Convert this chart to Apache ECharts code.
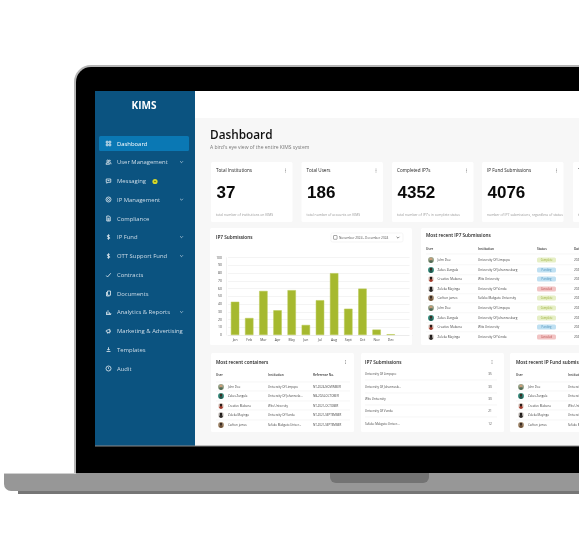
<!DOCTYPE html>
<html>
<head>
<meta charset="utf-8">
<title>KIMS Dashboard</title>
<script src="https://cdn.jsdelivr.net/npm/echarts@6/dist/echarts.min.js"></script>
<style>
    html, body { margin: 0; padding: 0; background: #fff; }
    #main { width: 579px; height: 549px; }
</style>
</head>
<body>
<div id="main"></div>
<script>
const months = ['Jan', 'Feb', 'Mar', 'Apr', 'May', 'Jun', 'Jul', 'Aug', 'Sept', 'Oct', 'Nov', 'Dec'];
const submissions = [43, 22, 57, 32, 58, 13, 45, 80, 34, 60, 7, 1];
const yTicks = [0, 10, 20, 30, 40, 50, 60, 70, 80, 90, 100];

const menuItems = ['Dashboard', 'User Management', 'Messaging', 'IP Management', 'Compliance', 'IP Fund', 'OTT Support Fund',
    'Contracts', 'Documents', 'Analytics & Reports', 'Marketing & Advertising', 'Templates', 'Audit'];
const menuWithChevron = ['User Management', 'IP Management', 'IP Fund', 'OTT Support Fund', 'Analytics & Reports'];

const statTitles = ['Total Institutions', 'Total Users', 'Completed IP7s', 'IP Fund Submissions', 'Total'];
const statValues = ['37', '186', '4352', '4076', '2'];
const statNotes = ['total number of institutions on KIMS', 'total number of accounts on KIMS',
    "total number of IP7's in complete status", 'number of IP7 submissions, regardless of status', 'total'];

const recentUsers = ['John Doe', 'Zakes Zungula', 'Creative Mabena', 'Zoleka Mayinga', 'Carlton james',
    'John Doe', 'Zakes Zungula', 'Creative Mabena', 'Zoleka Mayinga'];
const recentInstitutions = ['University Of Limpopo', 'University Of Johannesburg', 'Wits University', 'University Of Venda',
    'Sefako Makgato University', 'University Of Limpopo', 'University Of Johannesburg', 'Wits University', 'University Of Venda'];
const recentStatus = ['Complete', 'Pending', 'Pending', 'Canceled', 'Complete', 'Complete', 'Complete', 'Pending', 'Canceled'];

const containerInstitutions = ['University Of Limpopo', 'University Of Johannesb...', 'Wits University', 'University Of Venda', 'Sefako Makgato Univer...'];
const containerRefs = ['NT-2024-NOVEMBER', 'NB-2024-OCTOBER', 'NT-2021-OCTOBER', 'NT-2021-SEPTEMBER', 'NT-2021-SEPTEMBER'];
const rankInstitutions = ['University Of Limpopo', 'University Of Johannesb...', 'Wits University', 'University Of Venda', 'Sefako Makgato Univer...'];
const rankValues = [35, 30, 30, 21, 12];

const statusColors = {
    Complete: ['#e6efc6', '#9aae3a'],
    Pending: ['#bfe0f2', '#4a8fb8'],
    Canceled: ['#f2c4c4', '#b84a4a']
};
const avatarColors = [['#9aa58c', '#c69c78', '#4f6b58'], ['#3f9485', '#3a2c24', '#23584f'], ['#e9d9d2', '#2a1c18', '#a33a2c'],
    ['#d8d4d0', '#1f1a18', '#2e2a28'], ['#b09a80', '#3a2c24', '#6e5238']];

// 菜单图标线稿，24 x 24 的框：折线 + 圆环
const dollarIcon = { lines: [[[17, 6], [12, 4], [7, 7], [8, 11], [16, 13], [17, 17], [12, 20], [7, 18]], [[12, 2], [12, 22]]] };
const menuIcons = [
    { lines: [[[3, 3], [10, 3], [10, 10], [3, 10], [3, 3]], [[14, 3], [21, 3], [21, 10], [14, 10], [14, 3]],
        [[3, 14], [10, 14], [10, 21], [3, 21], [3, 14]], [[14, 14], [21, 14], [21, 21], [14, 21], [14, 14]]] },
    { lines: [[[2, 21], [4, 15], [14, 15], [16, 21], [2, 21]], [[17, 14], [21, 15], [22, 21]]], rings: [[9, 8, 4], [17, 7, 2.5]] },
    { lines: [[[3, 4], [21, 4], [21, 17], [10, 17], [5, 21], [5, 17], [3, 17], [3, 4]], [[8, 10], [16, 10]]] },
    { rings: [[12, 12, 10], [12, 12, 4]] },
    { lines: [[[5, 2], [15, 2], [19, 6], [19, 22], [5, 22], [5, 2]], [[8, 11], [16, 11]], [[8, 15], [16, 15]], [[8, 19], [16, 19]]] },
    dollarIcon,
    dollarIcon,
    { lines: [[[3, 14], [8, 20], [21, 5]]] },
    { lines: [[[8, 2], [20, 2], [20, 19], [8, 19], [8, 2]], [[4, 6], [4, 22], [16, 22]]] },
    { lines: [[[4, 21], [4, 11]], [[10, 21], [10, 5]], [[16, 21], [16, 13]], [[21, 21], [21, 16]], [[2, 22], [22, 22]]] },
    { lines: [[[3, 10], [3, 15], [17, 20], [17, 5], [3, 10]], [[8, 17], [8, 21], [11, 21]], [[20, 10], [20, 15]]] },
    { lines: [[[12, 3], [12, 14]], [[7, 10], [12, 15], [17, 10]], [[4, 20], [20, 20]]] },
    { rings: [[12, 12, 10]], lines: [[[12, 7], [12, 12], [15, 15]]] }
];

let els = [];

function rect(x, y, w, h, fill, r, extra) {
    els.push(Object.assign({
        type: 'rect', z: -1,
        shape: { x: x, y: y, width: w, height: h, r: r || 0 },
        style: { fill: fill }
    }, extra || {}));
}

function text(x, y, str, size, color, weight, align, family) {
    els.push({
        type: 'text', z: 10, x: x, y: y + 0.5,
        style: {
            text: str,
            fontFamily: family || '"Open Sans"',
            fontSize: size,
            fontWeight: weight || 400,
            fill: color || '#222',
            align: align || 'left',
            verticalAlign: 'middle'
        }
    });
}

function circle(cx, cy, r, fill, z) {
    els.push({ type: 'circle', z: z || 5, shape: { cx: cx, cy: cy, r: r }, style: { fill: fill } });
}

function hline(x1, x2, y, color) {
    els.push({ type: 'line', z: 1, shape: { x1: x1, y1: y, x2: x2, y2: y }, style: { stroke: color || '#f0f0f0', lineWidth: 0.6 } });
}

function dots(x, y) {
    circle(x, y - 1.5, 0.45, '#555');
    circle(x, y, 0.45, '#555');
    circle(x, y + 1.5, 0.45, '#555');
}

function avatar(x, y, i) {
    let c = avatarColors[i % avatarColors.length];
    circle(x, y, 3, c[0]);
    circle(x, y + 1.3, 1.7, c[2], 6);
    circle(x, y - 0.9, 1.4, c[1], 7);
}

function chevron(x, y, color) {
    els.push({
        type: 'polyline', z: 5,
        shape: { points: [[x - 1.4, y - 0.7], [x, y + 0.7], [x + 1.4, y - 0.7]] },
        style: { stroke: color, fill: null, lineWidth: 0.7 }
    });
}

function icon(spec, cx, cy, color) {
    let k = 6 / 24;
    (spec.lines || []).forEach(function(pts) {
        els.push({
            type: 'polyline', z: 5,
            shape: { points: pts.map(function(p) { return [cx - 3 + p[0] * k, cy - 3 + p[1] * k]; }) },
            style: { stroke: color, fill: null, lineWidth: 0.8 }
        });
    });
    (spec.rings || []).forEach(function(c) {
        els.push({
            type: 'circle', z: 5,
            shape: { cx: cx - 3 + c[0] * k, cy: cy - 3 + c[1] * k, r: c[2] * k },
            style: { stroke: color, fill: null, lineWidth: 0.8 }
        });
    });
}

/* 笔记本外壳 */
function drawLaptop() {
    rect(74, 65, 520, 410, '#b5b5b5', [17, 0, 0, 0]);
    rect(76, 67, 520, 408, '#000', [15, 0, 0, 0]);
    rect(95, 91, 484, 355, '#fff');
    rect(195, 118, 384, 328, '#f7f7f7');
    rect(95, 91, 100, 355, '#0b5380');
    rect(95, 445.5, 484, 1, '#8a8a8a');
    rect(4, 473, 575, 18, '#979797', [0, 0, 0, 7]);
    rect(4, 473, 72, 1, '#d0d0d0');
    rect(18, 491, 561, 3, '#767676');
    rect(330, 473, 99, 10, '#737373', [0, 0, 6, 6]);
}

function drawSidebar() {
    text(144, 106, 'KIMS', 10, '#fff', 700, 'center');
    rect(99, 136, 90, 15, '#0a78b4', 1.5);
    let ys = [143.5, 162, 181, 199.5, 218.5, 237, 256, 275, 293.5, 312, 331, 349.5, 368.5];
    for (let i = 0; i < menuItems.length; i++) {
        let color = i === 0 ? '#fff' : '#cfdde8';
        text(117, ys[i], menuItems[i], 5.9, color);
        icon(menuIcons[i], 108.5, ys[i], '#e4edf3');
        if (menuWithChevron.indexOf(menuItems[i]) >= 0) {
            chevron(181.5, ys[i], '#cfdde8');
        }
    }
    circle(155, 181.5, 2.6, '#d6d82a');
    circle(155, 181.5, 0.8, '#5f6a10');
}

function drawStats() {
    text(210, 135, 'Dashboard', 11.8, '#111', 600);
    text(210, 147, "A bird's eye view of the entire KIMS system", 5, '#777');
    let xs = [211, 301.5, 392, 482, 573];
    for (let i = 0; i < statTitles.length; i++) {
        rect(xs[i], 162, 81.5, 60, '#fff', 1.5);
        text(xs[i] + 5, 170.5, statTitles[i], 4.6, '#222');
        text(xs[i] + 5.5, 192.5, statValues[i], 17, '#0a0a0a', 700, 'left', '"Liberation Sans"');
        text(xs[i] + 5, 214.5, statNotes[i], 3.4, '#999');
        dots(xs[i] + 74.5, 170.5);
    }
}

function drawChartCard() {
    rect(210, 228, 202, 117, '#fff', 1.5);
    text(216, 237.5, 'IP7 Submissions', 4.7, '#222', 600);
    rect(331, 233, 72, 9, '#fff', 1.5, { style: { fill: '#fff', stroke: '#efefef', lineWidth: 0.6 } });
    els.push({ type: 'rect', z: 5, shape: { x: 333.5, y: 235.5, width: 3.6, height: 3.8, r: 0.5 }, style: { fill: null, stroke: '#555', lineWidth: 0.5 } });
    text(339, 237.5, 'November 2024 - December 2024', 3.15, '#555');
    chevron(398, 237.5, '#555');
    // 网格线停在卡片边缘前
    rect(409.5, 255, 2.5, 82, '#fff', 0, { z: 3 });
}

function drawRecentCard() {
    rect(421, 228, 170, 117, '#fff', 1.5);
    text(426, 235.5, 'Most recent IP7 Submissions', 4.7, '#222', 600);
    text(426, 248.7, 'User', 3.2, '#333', 600);
    text(478, 248.7, 'Institution', 3.2, '#333', 600);
    text(537, 248.7, 'Status', 3.2, '#333', 600);
    text(574, 248.7, 'Date', 3.2, '#333', 600);
    hline(426, 579, 254);
    let ys = [260, 270, 279, 289, 298, 308, 318, 327, 337];
    for (let i = 0; i < recentUsers.length; i++) {
        avatar(431, ys[i], i);
        text(437.5, ys[i], recentUsers[i], 3.1, '#444');
        text(478, ys[i], recentInstitutions[i], 3.1, '#444');
        let c = statusColors[recentStatus[i]];
        els.push({ type: 'rect', z: 5, shape: { x: 537, y: ys[i] - 2.5, width: 19, height: 5, r: 1.5 }, style: { fill: c[0] } });
        text(546.5, ys[i], recentStatus[i], 2.6, c[1], 400, 'center');
        text(574, ys[i], '2024', 3.1, '#444');
        if (i < recentUsers.length - 1) {
            hline(426, 579, ys[i] + 4.8);
        }
    }
}

function drawContainerCard() {
    rect(211, 353, 143, 79, '#fff', 1.5);
    text(216, 362, 'Most recent containers', 4.7, '#222', 600);
    dots(345.5, 362);
    text(216, 375, 'User', 3.1, '#333', 600);
    text(268, 375, 'Institution', 3.1, '#333', 600);
    text(313, 375, 'Reference No.', 3.1, '#333', 600);
    let ys = [387, 396, 406, 415, 425];
    for (let i = 0; i < containerRefs.length; i++) {
        avatar(221, ys[i], i);
        text(228, ys[i], recentUsers[i], 2.9, '#444');
        text(268, ys[i], containerInstitutions[i], 2.9, '#444');
        text(313, ys[i], containerRefs[i], 2.9, '#444');
        hline(216, 350, ys[i] - 5);
    }
}

function drawRankCard() {
    rect(361, 353, 143, 79, '#fff', 1.5);
    text(365, 362, 'IP7 Submissions', 4.7, '#222', 600);
    dots(492, 362);
    let ys = [374, 387, 399, 411, 424];
    for (let i = 0; i < rankValues.length; i++) {
        text(365, ys[i], rankInstitutions[i], 3, '#444');
        text(490, ys[i], String(rankValues[i]), 3, '#444', 400, 'center');
        if (i < rankValues.length - 1) {
            hline(365, 497, ys[i] + 6);
        }
    }
}

function drawFundCard() {
    rect(510, 353, 80, 79, '#fff', 1.5);
    text(516, 362, 'Most recent IP Fund submissions', 4.7, '#222', 600);
    text(516, 375, 'User', 3.1, '#333', 600);
    text(568, 375, 'Institution', 3.1, '#333', 600);
    let ys = [387, 396, 406, 415, 425];
    for (let i = 0; i < containerRefs.length; i++) {
        avatar(521, ys[i], i);
        text(528, ys[i], recentUsers[i], 2.9, '#444');
        text(568, ys[i], containerInstitutions[i], 2.9, '#444');
        hline(516, 579, ys[i] - 5);
    }
}

drawLaptop();
drawSidebar();
drawStats();
drawChartCard();
drawRecentCard();
drawContainerCard();
drawRankCard();
drawFundCard();

let myChart = echarts.init(document.getElementById('main'), null, { renderer: 'canvas' });

// 多留一个空类目，让网格线比最后一根柱子更长
let options = {
    animation: false,
    graphic: { elements: els },
    grid: { left: 228, top: 257.7, width: 184, height: 77.3 },
    xAxis: {
        type: 'category',
        data: months.concat(['']),
        axisTick: { show: false },
        axisLine: { lineStyle: { color: '#e8e8e8', width: 0.8 } },
        axisLabel: { fontFamily: '"Open Sans"', fontSize: 3.4, color: '#444', margin: 4, interval: 0 }
    },
    yAxis: {
        type: 'value',
        min: yTicks[0],
        max: yTicks[yTicks.length - 1],
        interval: yTicks[1] - yTicks[0],
        offset: 2,
        axisLine: { show: true, lineStyle: { color: '#efefef', width: 0.8 } },
        axisTick: { show: false },
        axisLabel: { fontFamily: '"Open Sans"', fontSize: 3.4, color: '#444', margin: 4 },
        splitLine: { lineStyle: { color: '#f1f1f1', width: 0.8 } }
    },
    series: [{
        name: 'IP7 Submissions',
        type: 'bar',
        data: submissions,
        barWidth: 8.4,
        itemStyle: { color: '#a6b92f', borderColor: '#b9c955', borderWidth: 0.5 }
    }]
};

myChart.setOption(options);
</script>
</body>
</html>
